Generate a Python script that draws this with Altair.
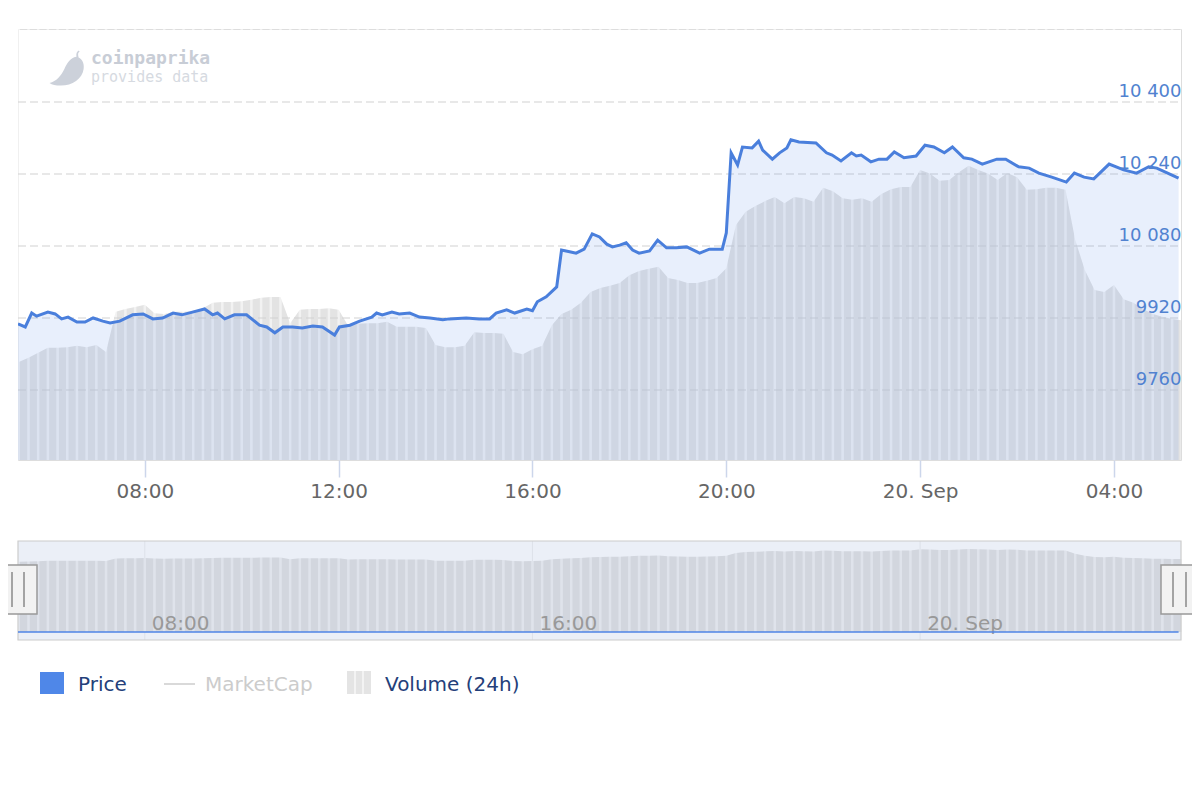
import altair as alt
import pandas as pd

# ---------------- data ----------------
price_times = ["05:23","05:32","05:40","05:46","06:00","06:09","06:17","06:25","06:36","06:46",
               "06:56","07:08","07:17","07:29","07:45","07:58","08:10","08:22","08:35","08:46",
               "08:59","09:14","09:24","09:30","09:39","09:51","10:06","10:22","10:31","10:41",
               "10:51","11:03","11:15","11:28","11:40","11:55","12:01","12:14","12:26","12:41",
               "12:47","12:54","13:06","13:15","13:28","13:40","13:53","14:09","14:17","14:38",
               "14:54","15:07","15:15","15:28","15:38","15:53","16:00","16:06","16:17","16:30",
               "16:36","16:46","16:54","17:04","17:14","17:23","17:32","17:39","17:48","17:56",
               "18:04","18:12","18:25","18:35","18:46","18:58","19:11","19:27","19:39","19:55",
               "20:00","20:06","20:14","20:20","20:32","20:40","20:45","20:57","21:06","21:15",
               "21:20","21:30","21:51","22:04","22:11","22:22","22:35","22:41","22:47","22:59",
               "23:09","23:19","23:28","23:40","23:55","00:06","00:17","00:30","00:40","00:54",
               "01:04","01:17","01:35","01:46","02:02","02:15","02:27","02:43","03:01","03:11",
               "03:23","03:35","03:54","04:12","04:28","04:43","04:53","05:20"]
price_values = [9907,9900,9931,9924,9933,9929,9918,9922,9911,9911,
                9920,9913,9909,9913,9927,9929,9918,9920,9931,9927,
                9933,9940,9927,9931,9918,9927,9927,9904,9900,9887,
                9900,9900,9898,9902,9900,9882,9900,9904,9913,9922,
                9931,9927,9933,9929,9931,9922,9920,9916,9918,9920,
                9918,9918,9931,9938,9931,9940,9936,9956,9967,9989,
                10071,10067,10064,10073,10107,10100,10084,10078,10082,10087,
                10071,10064,10069,10093,10076,10076,10078,10064,10073,10073,
                10109,10287,10260,10300,10298,10313,10293,10273,10287,10298,
                10316,10311,10309,10287,10282,10269,10287,10280,10282,10267,
                10273,10273,10289,10276,10280,10304,10300,10287,10300,10276,
                10273,10262,10273,10273,10256,10253,10242,10233,10222,10242,
                10233,10229,10262,10249,10242,10256,10253,10231]

# Volume (24h), billions USD, one sample every 12 minutes from 05:24
volume_start = "2019-09-19 05:24"
volume_step = "12min"
volume_values = [15.42,15.48,15.55,15.62,15.62,15.63,15.65,15.63,15.66,15.56,
                 16.13,16.17,16.20,16.23,16.11,16.10,16.13,16.13,16.14,16.18,
                 16.26,16.27,16.27,16.28,16.30,16.33,16.34,16.34,15.97,16.16,
                 16.17,16.17,16.18,16.16,15.93,15.96,15.97,15.97,15.99,15.92,
                 15.92,15.92,15.90,15.66,15.63,15.63,15.65,15.84,15.83,15.83,
                 15.82,15.56,15.53,15.60,15.65,15.94,16.10,16.16,16.26,16.41,
                 16.47,16.50,16.54,16.65,16.71,16.74,16.77,16.61,16.58,16.54,
                 16.54,16.57,16.61,16.75,17.36,17.55,17.63,17.70,17.76,17.67,
                 17.76,17.74,17.69,17.89,17.84,17.74,17.72,17.74,17.69,17.80,
                 17.87,17.90,17.90,18.14,18.09,17.99,18.00,18.11,18.20,18.14,
                 18.09,18.00,18.10,18.04,17.86,17.87,17.89,17.89,17.86,17.15,
                 16.72,16.44,16.41,16.51,16.31,16.26,16.17,16.10,16.06,16.03,
                 16.01]

grid_values = [9760, 9920, 10080, 10240, 10400]
main_ticks = [(19, 8), (19, 12), (19, 16), (19, 20), (20, 0), (20, 4)]
nav_tick_times = ["2019-09-19T08:00:00Z", "2019-09-19T16:00:00Z", "2019-09-20T00:00:00Z"]
nav_tick_labels = ["08:00", "16:00", "20. Sep"]
legend_labels = ["Price", "MarketCap", "Volume (24h)"]

# ---------------- tables ----------------
def to_iso(times):
    out, day, prev = [], "2019-09-19", -1
    for t in times:
        h, m = map(int, t.split(":"))
        mins = h * 60 + m
        if mins < prev:
            day = "2019-09-20"
        prev = mins
        out.append(f"{day}T{t}:00Z")
    return out

price_df = pd.DataFrame({"t": to_iso(price_times), "price": price_values})
price_df["price_b"] = price_df["price"] / 1e9  # same axis as volume in the navigator
vol_t = pd.date_range(volume_start, periods=len(volume_values), freq=volume_step)
vol_df = pd.DataFrame({"t": vol_t.strftime("%Y-%m-%dT%H:%M:00Z"), "vol": volume_values})
grid_df = pd.DataFrame({"price": grid_values})
nav_df = pd.DataFrame({"t": nav_tick_times, "label": nav_tick_labels})
one = pd.DataFrame({"a": [0]})

W, H = 1163, 431
FONT = "DejaVu Sans"

x_dom = [alt.DateTime(year=2019, month=9, date=19, hours=5, minutes=23, utc=True),
         alt.DateTime(year=2019, month=9, date=20, hours=5, minutes=23, utc=True)]
x_scale = alt.Scale(type="utc", domain=x_dom, nice=False)
tick_vals = [alt.DateTime(year=2019, month=9, date=d, hours=h, utc=True) for d, h in main_ticks]

price_scale = alt.Scale(domain=[9604.4, 10562.2], zero=False, nice=False)
vol_scale = alt.Scale(domain=[14.03, 20.14], zero=False, nice=False)
nav_scale = alt.Scale(domain=[-1.76, 19.97], range=[611, 512], zero=False, nice=False)

x_axis = alt.Axis(
    values=tick_vals,
    labelExpr="utcFormat(datum.value, '%H:%M') == '00:00' ? utcFormat(datum.value, '%d. %b') : utcFormat(datum.value, '%H:%M')",
    tickSize=17, tickColor="#ccd6eb", tickWidth=1.5, domain=False, grid=False,
    labelFontSize=20, labelColor="#666666", labelPadding=4, labelFont=FONT, title=None,
    labelFlush=False, labelOverlap=False)
X = alt.X("t:T", scale=x_scale, axis=x_axis)

# ---------------- main plot ----------------
vol_area = alt.Chart(vol_df).mark_area(color="#e3e3e3", clip=True).encode(
    x=X, y=alt.Y("vol:Q", scale=vol_scale, axis=None), y2=alt.value(H))
vol_stripes = alt.Chart(vol_df).mark_rule(color="white", strokeWidth=2.5, opacity=0.55, clip=True).encode(
    x=X, y=alt.value(0), y2=alt.value(H))
grid = alt.Chart(grid_df).mark_rule(strokeDash=[8, 4], color="#d2d2d2", strokeWidth=1.2).encode(
    y=alt.Y("price:Q", scale=price_scale, axis=None), x=alt.value(0), x2=alt.value(W))
price_area = alt.Chart(price_df).mark_area(color="#4f85e6", opacity=0.13, clip=True).encode(
    x=X, y=alt.Y("price:Q", scale=price_scale, axis=None), y2=alt.value(H))
price_line = alt.Chart(price_df).mark_line(color="#4a7fdc", strokeWidth=3, clip=True).encode(
    x=X,
    y=alt.Y("price:Q", scale=price_scale, axis=alt.Axis(
        orient="right", values=grid_values,
        labelExpr="datum.value >= 10000 ? replace(format(datum.value, ','), ',', ' ') : format(datum.value, 'd')",
        ticks=False, tickSize=0, domain=False, grid=False, labelAlign="right",
        labelBaseline="alphabetic", labelOffset=-5, labelPadding=0, labelFontSize=18,
        labelFont=FONT, labelColor="#5182d0", title=None, zindex=1)))

# ---------------- navigator ----------------
nav_grid = alt.Chart(nav_df).mark_rule(color="#dcdcdc", strokeWidth=1).encode(
    x=X, y=alt.value(512), y2=alt.value(611))
nav_area = alt.Chart(vol_df).mark_area(color="#e3e3e3").encode(
    x=X, y=alt.Y("vol:Q", scale=nav_scale, axis=None), y2=alt.value(611))
nav_stripes = alt.Chart(vol_df).mark_rule(color="white", strokeWidth=2.5, opacity=0.55).encode(
    x=X, y=alt.value(512), y2=alt.value(611))
nav_mask = alt.Chart(one).mark_rect(fill="#6685c2", opacity=0.13).encode(
    x=alt.value(0), x2=alt.value(W), y=alt.value(512), y2=alt.value(611))
nav_frame = alt.Chart(one).mark_rect(fillOpacity=0, stroke="#cccccc", strokeWidth=1.2).encode(
    x=alt.value(0), x2=alt.value(W), y=alt.value(512), y2=alt.value(611))
nav_labels = alt.Chart(nav_df).mark_text(align="left", baseline="middle", dx=7, fontSize=20,
                                         font=FONT, color="#999999").encode(
    x=X, y=alt.value(595), text="label:N")
nav_price = alt.Chart(price_df).mark_line(color="#4f85e6", strokeWidth=1.5).encode(
    x=X, y=alt.Y("price_b:Q", scale=nav_scale, axis=None))

def handle(x0, x1, l1, l2):
    box = alt.Chart(one).mark_rect(fill="#f2f2f2", stroke="#999999", strokeWidth=1.5).encode(
        x=alt.value(x0), x2=alt.value(x1), y=alt.value(536), y2=alt.value(585))
    lines = [alt.Chart(one).mark_rule(color="#888888", strokeWidth=1.5).encode(
        x=alt.value(v), y=alt.value(543), y2=alt.value(578)) for v in (l1, l2)]
    return [box] + lines

handles = handle(-18, 19, -6, 6) + handle(1143, 1180, 1155, 1168)

# ---------------- legend ----------------
leg = [
    alt.Chart(one).mark_rect(color="#4f87e8").encode(
        x=alt.value(22), x2=alt.value(46), y=alt.value(643), y2=alt.value(665)),
    alt.Chart(one).mark_text(align="left", baseline="middle", fontSize=20, font=FONT, color="#24407a").encode(
        x=alt.value(60), y=alt.value(656), text=alt.value(legend_labels[0])),
    alt.Chart(one).mark_rule(color="#cccccc", strokeWidth=1.5).encode(
        x=alt.value(146), x2=alt.value(177), y=alt.value(655)),
    alt.Chart(one).mark_text(align="left", baseline="middle", fontSize=20, font=FONT, color="#cccccc").encode(
        x=alt.value(187), y=alt.value(656), text=alt.value(legend_labels[1])),
    alt.Chart(one).mark_rect(color="#e4e4e4").encode(
        x=alt.value(329), x2=alt.value(353), y=alt.value(642), y2=alt.value(665)),
    alt.Chart(one).mark_rule(color="#f3f3f3", strokeWidth=2).encode(
        x=alt.value(337), y=alt.value(642), y2=alt.value(665)),
    alt.Chart(one).mark_rule(color="#f3f3f3", strokeWidth=2).encode(
        x=alt.value(345), y=alt.value(642), y2=alt.value(665)),
    alt.Chart(one).mark_text(align="left", baseline="middle", fontSize=20, font=FONT, color="#24407a").encode(
        x=alt.value(367), y=alt.value(656), text=alt.value(legend_labels[2])),
]

# ---------------- watermark ----------------
pepper_path = ("M 0.53 -0.65 C 0.85 -0.6 1.0 -0.3 0.95 0.05 C 0.88 0.6 0.3 1.0 -0.35 1.0 "
               "C -0.65 1.0 -0.85 0.95 -1.0 0.85 C -0.6 0.75 -0.35 0.45 -0.15 0.05 "
               "C 0.0 -0.3 0.2 -0.6 0.53 -0.65 Z "
               "M 0.55 -0.62 C 0.5 -0.8 0.55 -0.95 0.68 -1.0 L 0.72 -0.93 "
               "C 0.62 -0.88 0.62 -0.78 0.66 -0.62 Z")
logo = [
    alt.Chart(one).mark_point(shape=pepper_path, filled=True, size=1225, color="#ccd1da", opacity=1).encode(
        x=alt.value(49), y=alt.value(39)),
    alt.Chart(one).mark_text(align="left", baseline="middle", fontSize=18, font="DejaVu Sans Mono",
                             fontWeight="bold", color="#c8cdd6").encode(
        x=alt.value(73), y=alt.value(30), text=alt.value("coinpaprika")),
    alt.Chart(one).mark_text(align="left", baseline="middle", fontSize=15, font="DejaVu Sans Mono",
                             color="#d6dae1").encode(
        x=alt.value(73), y=alt.value(48), text=alt.value("provides data")),
]

layers = ([vol_area, vol_stripes, grid, price_area, price_line] + logo +
          [nav_grid, nav_area, nav_stripes, nav_mask, nav_frame, nav_labels, nav_price] +
          handles + leg)

chart = alt.layer(*layers).resolve_scale(y="independent").properties(
    width=W, height=H,
    autosize=alt.AutoSizeParams(type="none"),
    padding={"left": 10, "top": 21, "right": 11, "bottom": 260},
).configure_view(stroke="#dcdcdc", strokeWidth=1.5).configure(font=FONT)

chart.save("out.html", embed_options={"renderer": "svg", "actions": False})
